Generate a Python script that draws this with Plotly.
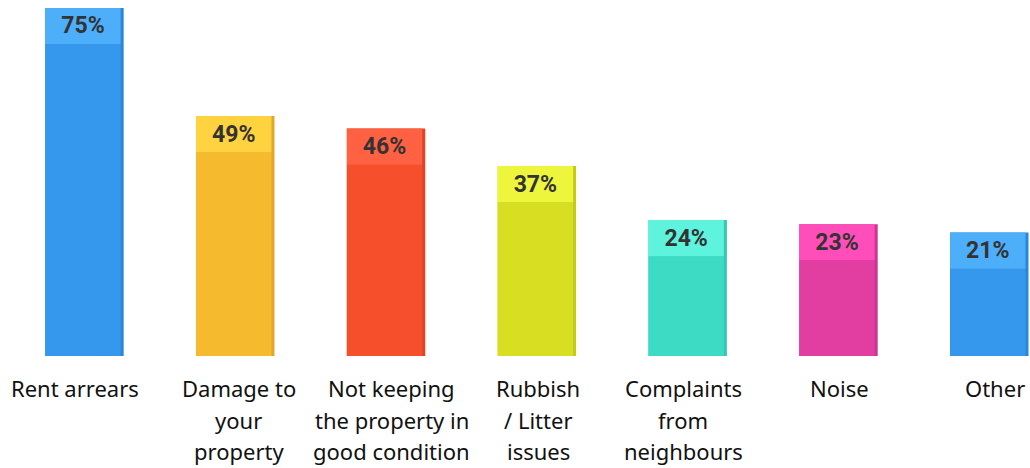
import plotly.graph_objects as go

# Survey answers: reasons for problems with tenants (% of landlords)
categories = [
    ["Rent arrears"],
    ["Damage to", "your", "property"],
    ["Not keeping", "the property in", "good condition"],
    ["Rubbish", "/ Litter", "issues"],
    ["Complaints", "from", "neighbours"],
    ["Noise"],
    ["Other"],
]
values = [75, 49, 46, 37, 24, 23, 21]
value_labels = ["75%", "49%", "46%", "37%", "24%", "23%", "21%"]

# Face colours of each pseudo-3D column
front_colors = ["#3598EC", "#F5BA2E", "#F54F2B", "#D8DF22", "#3DDBC4", "#E23DA0", "#3598EC"]
cap_colors = ["#4DAEF9", "#FFD33F", "#FF6142", "#EDF63C", "#5EF3DC", "#FF4EB9", "#4DAEF9"]
side_colors = ["#2A86DA", "#E3A825", "#E14424", "#C4CA1A", "#33C8B2", "#CC3590", "#2A86DA"]

CAP = 8.7          # height of the label cap on top of each column, in axis units
BAR_W = 0.5
idx = list(range(len(values)))

# small horizontal nudges of the category captions, in pixels
label_shift = [-8, 5, 7, 3, -3, 3, 7]

fig = go.Figure()

# darker right-hand side face, full height including the cap
fig.add_trace(go.Bar(
    x=idx, y=[v + CAP for v in values], base=0,
    width=BAR_W + 0.02, offset=-BAR_W / 2,
    marker=dict(color=side_colors, line=dict(width=0)),
    hoverinfo="skip", showlegend=False,
))

# front face up to the value
fig.add_trace(go.Bar(
    x=idx, y=values, base=0,
    width=BAR_W, offset=-BAR_W / 2,
    marker=dict(color=front_colors, line=dict(width=0)),
    hoverinfo="skip", showlegend=False,
))

# lighter cap carrying the percentage
fig.add_trace(go.Bar(
    x=idx, y=[CAP] * len(values), base=values,
    width=BAR_W, offset=-BAR_W / 2,
    marker=dict(color=cap_colors, line=dict(width=0)),
    text=value_labels, textposition="inside", insidetextanchor="middle",
    constraintext="none", textangle=0,
    textfont=dict(family="Roboto", size=23, color="#333333", weight="bold"),
    hoverinfo="skip", showlegend=False,
))

# multi-line category labels under the columns
annotations = []
for i, lines in enumerate(categories):
    for j, line in enumerate(lines):
        annotations.append(dict(
            x=i, xref="x", y=-0.09 - 0.089 * j, yref="paper",
            xshift=label_shift[i],
            text=line, showarrow=False, xanchor="center", yanchor="middle",
            font=dict(family="Noto Sans", size=22, color="#111111"),
        ))

fig.update_layout(
    width=1030, height=468,
    margin=dict(l=0, r=0, t=0, b=112),
    barmode="overlay",
    plot_bgcolor="white", paper_bgcolor="white",
    xaxis=dict(range=[-0.55, 6.28], showgrid=False, zeroline=False,
               showticklabels=False, fixedrange=True),
    yaxis=dict(range=[0, 85.6], showgrid=False, zeroline=False,
               showticklabels=False, fixedrange=True),
    annotations=annotations,
)

fig.write_html("out.html")
